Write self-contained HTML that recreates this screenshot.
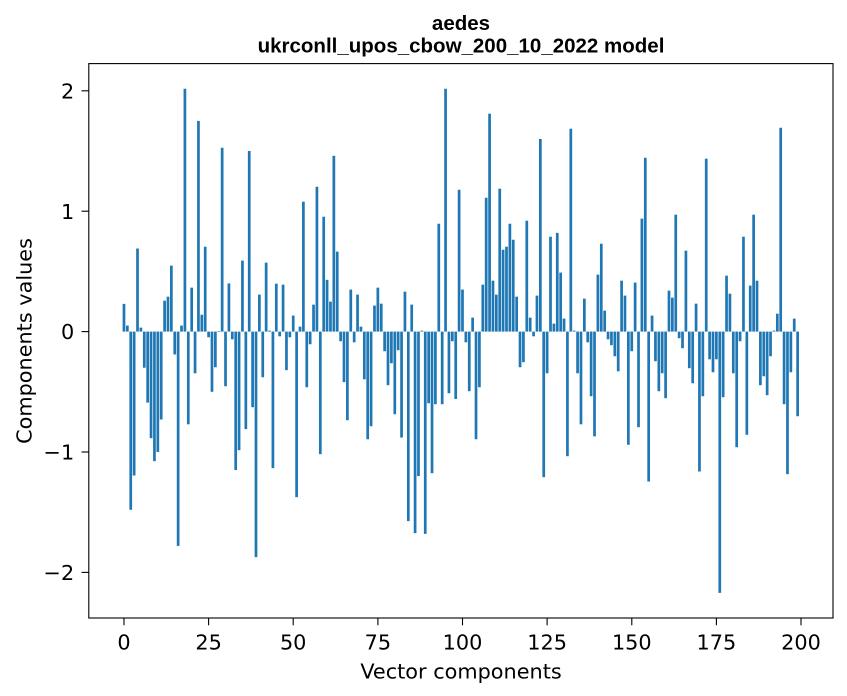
<!DOCTYPE html>
<html>
<head>
<meta charset="utf-8">
<style>
html,body{margin:0;padding:0;background:#fff;}
svg{display:block;}
.tk{font-family:"DejaVu Sans","Liberation Sans",sans-serif;font-size:20.8px;fill:#000;}
.tt{font-family:"Liberation Sans","DejaVu Sans",sans-serif;font-size:20.5px;font-weight:bold;fill:#000;}
</style>
</head>
<body>
<svg width="847" height="696" viewBox="0 0 847 696" xmlns="http://www.w3.org/2000/svg">
<rect x="0" y="0" width="847" height="696" fill="#fff"/>
<g transform="translate(123.97,331.6) scale(3.3852,-120.4)" fill="#1f77b4">
<rect x="-0.4" y="0" width="0.8" height="0.23"/>
<rect x="0.6" y="0" width="0.8" height="0.05"/>
<rect x="1.6" y="-1.48" width="0.8" height="1.48"/>
<rect x="2.6" y="-1.195" width="0.8" height="1.195"/>
<rect x="3.6" y="0" width="0.8" height="0.69"/>
<rect x="4.6" y="0" width="0.8" height="0.033"/>
<rect x="5.6" y="-0.30" width="0.8" height="0.30"/>
<rect x="6.6" y="-0.59" width="0.8" height="0.59"/>
<rect x="7.6" y="-0.885" width="0.8" height="0.885"/>
<rect x="8.6" y="-1.076" width="0.8" height="1.076"/>
<rect x="9.6" y="-1.0" width="0.8" height="1.0"/>
<rect x="10.6" y="-0.73" width="0.8" height="0.73"/>
<rect x="11.6" y="0" width="0.8" height="0.257"/>
<rect x="12.6" y="0" width="0.8" height="0.29"/>
<rect x="13.6" y="0" width="0.8" height="0.548"/>
<rect x="14.6" y="-0.19" width="0.8" height="0.19"/>
<rect x="15.6" y="-1.78" width="0.8" height="1.78"/>
<rect x="16.6" y="0" width="0.8" height="0.05"/>
<rect x="17.6" y="0" width="0.8" height="2.017"/>
<rect x="18.6" y="-0.77" width="0.8" height="0.77"/>
<rect x="19.6" y="0" width="0.8" height="0.365"/>
<rect x="20.6" y="-0.346" width="0.8" height="0.346"/>
<rect x="21.6" y="0" width="0.8" height="1.75"/>
<rect x="22.6" y="0" width="0.8" height="0.14"/>
<rect x="23.6" y="0" width="0.8" height="0.705"/>
<rect x="24.6" y="-0.047" width="0.8" height="0.047"/>
<rect x="25.6" y="-0.50" width="0.8" height="0.50"/>
<rect x="26.6" y="-0.296" width="0.8" height="0.296"/>
<rect x="27.6" y="0" width="0.8" height="0.005"/>
<rect x="28.6" y="0" width="0.8" height="1.527"/>
<rect x="29.6" y="-0.454" width="0.8" height="0.454"/>
<rect x="30.6" y="0" width="0.8" height="0.40"/>
<rect x="31.6" y="-0.064" width="0.8" height="0.064"/>
<rect x="32.6" y="-1.15" width="0.8" height="1.15"/>
<rect x="33.6" y="-0.985" width="0.8" height="0.985"/>
<rect x="34.6" y="0" width="0.8" height="0.59"/>
<rect x="35.6" y="-0.81" width="0.8" height="0.81"/>
<rect x="36.6" y="0" width="0.8" height="1.50"/>
<rect x="37.6" y="-0.628" width="0.8" height="0.628"/>
<rect x="38.6" y="-1.873" width="0.8" height="1.873"/>
<rect x="39.6" y="0" width="0.8" height="0.307"/>
<rect x="40.6" y="-0.379" width="0.8" height="0.379"/>
<rect x="41.6" y="0" width="0.8" height="0.573"/>
<rect x="42.6" y="0" width="0.8" height="0.008"/>
<rect x="43.6" y="-1.134" width="0.8" height="1.134"/>
<rect x="44.6" y="0" width="0.8" height="0.398"/>
<rect x="45.6" y="-0.039" width="0.8" height="0.039"/>
<rect x="46.6" y="0" width="0.8" height="0.39"/>
<rect x="47.6" y="-0.32" width="0.8" height="0.32"/>
<rect x="48.6" y="-0.047" width="0.8" height="0.047"/>
<rect x="49.6" y="0" width="0.8" height="0.133"/>
<rect x="50.6" y="-1.375" width="0.8" height="1.375"/>
<rect x="51.6" y="0" width="0.8" height="0.041"/>
<rect x="52.6" y="0" width="0.8" height="1.079"/>
<rect x="53.6" y="-0.462" width="0.8" height="0.462"/>
<rect x="54.6" y="-0.105" width="0.8" height="0.105"/>
<rect x="55.6" y="0" width="0.8" height="0.224"/>
<rect x="56.6" y="0" width="0.8" height="1.203"/>
<rect x="57.6" y="-1.018" width="0.8" height="1.018"/>
<rect x="58.6" y="0" width="0.8" height="0.954"/>
<rect x="59.6" y="0" width="0.8" height="0.43"/>
<rect x="60.6" y="0" width="0.8" height="0.249"/>
<rect x="61.6" y="0" width="0.8" height="1.46"/>
<rect x="62.6" y="0" width="0.8" height="0.664"/>
<rect x="63.6" y="-0.08" width="0.8" height="0.08"/>
<rect x="64.6" y="-0.42" width="0.8" height="0.42"/>
<rect x="65.6" y="-0.736" width="0.8" height="0.736"/>
<rect x="66.6" y="0" width="0.8" height="0.349"/>
<rect x="67.6" y="-0.089" width="0.8" height="0.089"/>
<rect x="68.6" y="0" width="0.8" height="0.307"/>
<rect x="69.6" y="0" width="0.8" height="0.041"/>
<rect x="70.6" y="-0.396" width="0.8" height="0.396"/>
<rect x="71.6" y="-0.894" width="0.8" height="0.894"/>
<rect x="72.6" y="-0.786" width="0.8" height="0.786"/>
<rect x="73.6" y="0" width="0.8" height="0.216"/>
<rect x="74.6" y="0" width="0.8" height="0.365"/>
<rect x="75.6" y="0" width="0.8" height="0.232"/>
<rect x="76.6" y="-0.163" width="0.8" height="0.163"/>
<rect x="77.6" y="-0.445" width="0.8" height="0.445"/>
<rect x="78.6" y="-0.263" width="0.8" height="0.263"/>
<rect x="79.6" y="-0.686" width="0.8" height="0.686"/>
<rect x="80.6" y="-0.155" width="0.8" height="0.155"/>
<rect x="81.6" y="-0.88" width="0.8" height="0.88"/>
<rect x="82.6" y="0" width="0.8" height="0.332"/>
<rect x="83.6" y="-1.574" width="0.8" height="1.574"/>
<rect x="84.6" y="0" width="0.8" height="0.224"/>
<rect x="85.6" y="-1.674" width="0.8" height="1.674"/>
<rect x="86.6" y="-1.20" width="0.8" height="1.20"/>
<rect x="87.6" y="0" width="0.8" height="0.008"/>
<rect x="88.6" y="-1.68" width="0.8" height="1.68"/>
<rect x="89.6" y="-0.595" width="0.8" height="0.595"/>
<rect x="90.6" y="-1.176" width="0.8" height="1.176"/>
<rect x="91.6" y="-0.603" width="0.8" height="0.603"/>
<rect x="92.6" y="0" width="0.8" height="0.896"/>
<rect x="93.6" y="-0.603" width="0.8" height="0.603"/>
<rect x="94.6" y="0" width="0.8" height="2.017"/>
<rect x="95.6" y="-0.512" width="0.8" height="0.512"/>
<rect x="96.6" y="-0.08" width="0.8" height="0.08"/>
<rect x="97.6" y="-0.56" width="0.8" height="0.56"/>
<rect x="98.6" y="0" width="0.8" height="1.178"/>
<rect x="99.6" y="0" width="0.8" height="0.349"/>
<rect x="100.6" y="-0.089" width="0.8" height="0.089"/>
<rect x="101.6" y="-0.495" width="0.8" height="0.495"/>
<rect x="102.6" y="0" width="0.8" height="0.116"/>
<rect x="103.6" y="-0.894" width="0.8" height="0.894"/>
<rect x="104.6" y="-0.462" width="0.8" height="0.462"/>
<rect x="105.6" y="0" width="0.8" height="0.39"/>
<rect x="106.6" y="0" width="0.8" height="1.112"/>
<rect x="107.6" y="0" width="0.8" height="1.81"/>
<rect x="108.6" y="0" width="0.8" height="0.423"/>
<rect x="109.6" y="0" width="0.8" height="0.307"/>
<rect x="110.6" y="0" width="0.8" height="1.187"/>
<rect x="111.6" y="0" width="0.8" height="0.68"/>
<rect x="112.6" y="0" width="0.8" height="0.705"/>
<rect x="113.6" y="0" width="0.8" height="0.896"/>
<rect x="114.6" y="0" width="0.8" height="0.763"/>
<rect x="115.6" y="0" width="0.8" height="0.29"/>
<rect x="116.6" y="-0.296" width="0.8" height="0.296"/>
<rect x="117.6" y="-0.254" width="0.8" height="0.254"/>
<rect x="118.6" y="0" width="0.8" height="0.921"/>
<rect x="119.6" y="0" width="0.8" height="0.116"/>
<rect x="120.6" y="-0.039" width="0.8" height="0.039"/>
<rect x="121.6" y="0" width="0.8" height="0.299"/>
<rect x="122.6" y="0" width="0.8" height="1.60"/>
<rect x="123.6" y="-1.209" width="0.8" height="1.209"/>
<rect x="124.6" y="-0.346" width="0.8" height="0.346"/>
<rect x="125.6" y="0" width="0.8" height="0.788"/>
<rect x="126.6" y="0" width="0.8" height="0.066"/>
<rect x="127.6" y="0" width="0.8" height="0.82"/>
<rect x="128.6" y="0" width="0.8" height="0.49"/>
<rect x="129.6" y="0" width="0.8" height="0.108"/>
<rect x="130.6" y="-1.035" width="0.8" height="1.035"/>
<rect x="131.6" y="0" width="0.8" height="1.685"/>
<rect x="132.6" y="0" width="0.8" height="0.008"/>
<rect x="133.6" y="-0.346" width="0.8" height="0.346"/>
<rect x="134.6" y="-0.77" width="0.8" height="0.77"/>
<rect x="135.6" y="0" width="0.8" height="0.274"/>
<rect x="136.6" y="-0.089" width="0.8" height="0.089"/>
<rect x="137.6" y="-0.537" width="0.8" height="0.537"/>
<rect x="138.6" y="-0.87" width="0.8" height="0.87"/>
<rect x="139.6" y="0" width="0.8" height="0.473"/>
<rect x="140.6" y="0" width="0.8" height="0.73"/>
<rect x="141.6" y="0" width="0.8" height="0.174"/>
<rect x="142.6" y="-0.064" width="0.8" height="0.064"/>
<rect x="143.6" y="-0.113" width="0.8" height="0.113"/>
<rect x="144.6" y="-0.205" width="0.8" height="0.205"/>
<rect x="145.6" y="-0.33" width="0.8" height="0.33"/>
<rect x="146.6" y="0" width="0.8" height="0.423"/>
<rect x="147.6" y="0" width="0.8" height="0.299"/>
<rect x="148.6" y="-0.94" width="0.8" height="0.94"/>
<rect x="149.6" y="-0.163" width="0.8" height="0.163"/>
<rect x="150.6" y="0" width="0.8" height="0.407"/>
<rect x="151.6" y="-0.794" width="0.8" height="0.794"/>
<rect x="152.6" y="0" width="0.8" height="0.938"/>
<rect x="153.6" y="0" width="0.8" height="1.444"/>
<rect x="154.6" y="-1.245" width="0.8" height="1.245"/>
<rect x="155.6" y="0" width="0.8" height="0.133"/>
<rect x="156.6" y="-0.246" width="0.8" height="0.246"/>
<rect x="157.6" y="-0.495" width="0.8" height="0.495"/>
<rect x="158.6" y="-0.346" width="0.8" height="0.346"/>
<rect x="159.6" y="-0.553" width="0.8" height="0.553"/>
<rect x="160.6" y="0" width="0.8" height="0.34"/>
<rect x="161.6" y="0" width="0.8" height="0.282"/>
<rect x="162.6" y="0" width="0.8" height="0.971"/>
<rect x="163.6" y="-0.055" width="0.8" height="0.055"/>
<rect x="164.6" y="-0.138" width="0.8" height="0.138"/>
<rect x="165.6" y="0" width="0.8" height="0.672"/>
<rect x="166.6" y="-0.304" width="0.8" height="0.304"/>
<rect x="167.6" y="-0.429" width="0.8" height="0.429"/>
<rect x="168.6" y="0" width="0.8" height="0.232"/>
<rect x="169.6" y="-1.162" width="0.8" height="1.162"/>
<rect x="170.6" y="-0.537" width="0.8" height="0.537"/>
<rect x="171.6" y="0" width="0.8" height="1.436"/>
<rect x="172.6" y="-0.23" width="0.8" height="0.23"/>
<rect x="173.6" y="-0.338" width="0.8" height="0.338"/>
<rect x="174.6" y="-0.23" width="0.8" height="0.23"/>
<rect x="175.6" y="-2.17" width="0.8" height="2.17"/>
<rect x="176.6" y="-0.545" width="0.8" height="0.545"/>
<rect x="177.6" y="0" width="0.8" height="0.465"/>
<rect x="178.6" y="0" width="0.8" height="0.315"/>
<rect x="179.6" y="-0.346" width="0.8" height="0.346"/>
<rect x="180.6" y="-0.96" width="0.8" height="0.96"/>
<rect x="181.6" y="-0.08" width="0.8" height="0.08"/>
<rect x="182.6" y="0" width="0.8" height="0.788"/>
<rect x="183.6" y="-0.857" width="0.8" height="0.857"/>
<rect x="184.6" y="0" width="0.8" height="0.382"/>
<rect x="185.6" y="0" width="0.8" height="0.971"/>
<rect x="186.6" y="0" width="0.8" height="0.423"/>
<rect x="187.6" y="-0.445" width="0.8" height="0.445"/>
<rect x="188.6" y="-0.371" width="0.8" height="0.371"/>
<rect x="189.6" y="-0.528" width="0.8" height="0.528"/>
<rect x="190.6" y="-0.205" width="0.8" height="0.205"/>
<rect x="191.6" y="0" width="0.8" height="0.008"/>
<rect x="192.6" y="0" width="0.8" height="0.149"/>
<rect x="193.6" y="0" width="0.8" height="1.693"/>
<rect x="194.6" y="-0.603" width="0.8" height="0.603"/>
<rect x="195.6" y="-1.184" width="0.8" height="1.184"/>
<rect x="196.6" y="-0.338" width="0.8" height="0.338"/>
<rect x="197.6" y="0" width="0.8" height="0.108"/>
<rect x="198.6" y="-0.703" width="0.8" height="0.703"/>
</g>
<!-- frame -->
<rect x="88.8" y="63.6" width="744.2" height="554.4" fill="none" stroke="#000" stroke-width="1.1"/>
<!-- x ticks -->
<g stroke="#000" stroke-width="1.1">
<line x1="123.97" y1="618" x2="123.97" y2="625.3"/>
<line x1="208.6" y1="618" x2="208.6" y2="625.3"/>
<line x1="293.2" y1="618" x2="293.2" y2="625.3"/>
<line x1="377.9" y1="618" x2="377.9" y2="625.3"/>
<line x1="462.5" y1="618" x2="462.5" y2="625.3"/>
<line x1="547.1" y1="618" x2="547.1" y2="625.3"/>
<line x1="631.8" y1="618" x2="631.8" y2="625.3"/>
<line x1="716.4" y1="618" x2="716.4" y2="625.3"/>
<line x1="801.0" y1="618" x2="801.0" y2="625.3"/>
<!-- y ticks -->
<line x1="81.5" y1="572.4" x2="88.8" y2="572.4"/>
<line x1="81.5" y1="452.0" x2="88.8" y2="452.0"/>
<line x1="81.5" y1="331.6" x2="88.8" y2="331.6"/>
<line x1="81.5" y1="211.2" x2="88.8" y2="211.2"/>
<line x1="81.5" y1="90.8" x2="88.8" y2="90.8"/>
</g>
<g class="tk" text-anchor="middle">
<text x="123.97" y="649.3">0</text>
<text x="208.6" y="649.3">25</text>
<text x="293.2" y="649.3">50</text>
<text x="377.9" y="649.3">75</text>
<text x="462.5" y="649.3">100</text>
<text x="547.1" y="649.3">125</text>
<text x="631.8" y="649.3">150</text>
<text x="716.4" y="649.3">175</text>
<text x="801.0" y="649.3">200</text>
</g>
<g class="tk" text-anchor="end">
<text x="74.2" y="580.0">−2</text>
<text x="74.2" y="459.6">−1</text>
<text x="74.2" y="339.2">0</text>
<text x="74.2" y="218.8">1</text>
<text x="74.2" y="98.4">2</text>
</g>
<text class="tk" x="461" y="678.3" text-anchor="middle">Vector components</text>
<text class="tk" transform="translate(31.7,341) rotate(-90)" text-anchor="middle">Components values</text>
<text class="tt" x="461" y="30" text-anchor="middle">aedes</text>
<text class="tt" x="461" y="52.6" text-anchor="middle">ukrconll_upos_cbow_200_10_2022 model</text>
</svg>
</body>
</html>
